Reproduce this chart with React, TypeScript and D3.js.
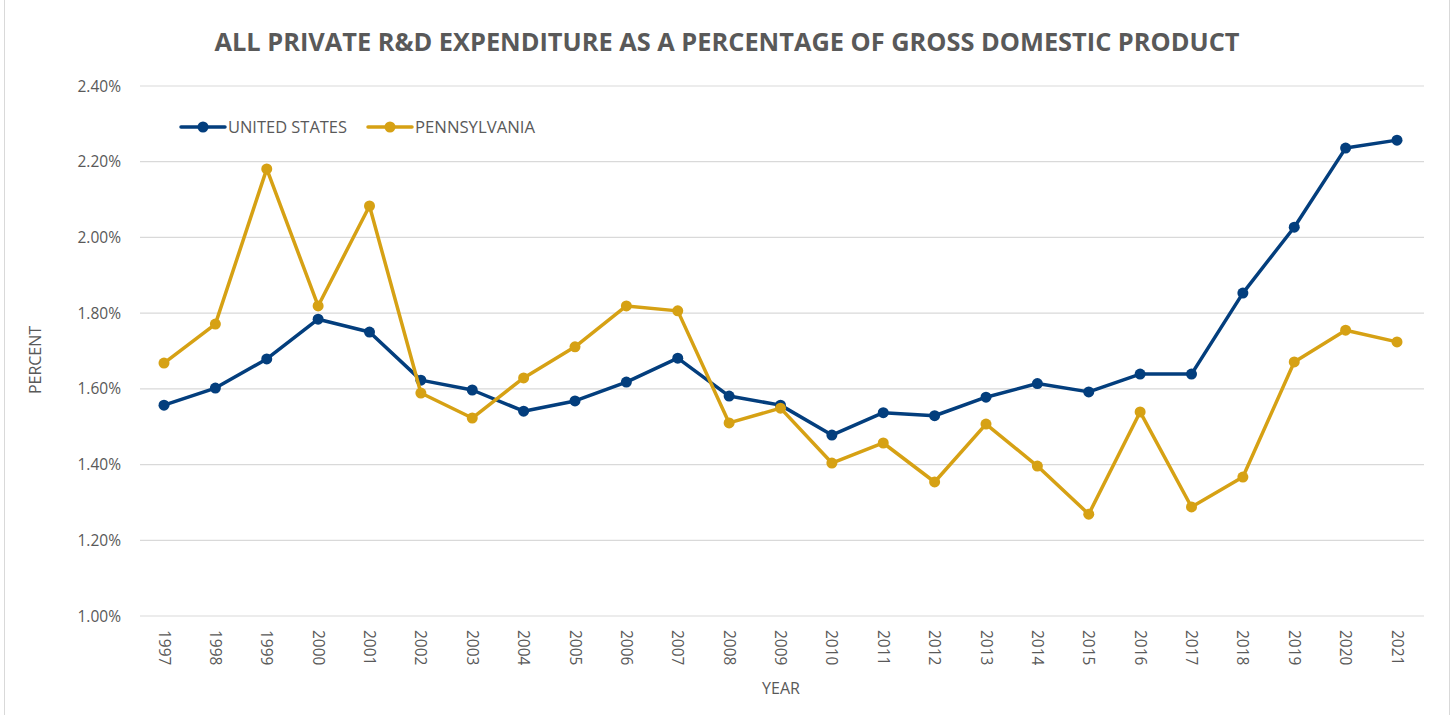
import React from "react";
import * as d3 from "d3";

const years = [1997,1998,1999,2000,2001,2002,2003,2004,2005,2006,2007,2008,2009,2010,2011,2012,2013,2014,2015,2016,2017,2018,2019,2020,2021];
const usValues = [1.557,1.602,1.679,1.784,1.750,1.623,1.597,1.541,1.568,1.618,1.681,1.581,1.557,1.478,1.537,1.529,1.578,1.614,1.592,1.639,1.639,1.853,2.027,2.236,2.257];
const paValues = [1.668,1.771,2.181,1.819,2.083,1.589,1.523,1.629,1.711,1.819,1.806,1.510,1.549,1.404,1.457,1.354,1.507,1.396,1.269,1.539,1.288,1.367,1.671,1.755,1.724];
const yTicks = [1.0,1.2,1.4,1.6,1.8,2.0,2.2,2.4];
const seriesNames = ["UNITED STATES", "PENNSYLVANIA"];
const colors = ["#033e7d", "#d6a114"];

const W = 1455, H = 715;
const font = "'Open Sans', 'Noto Sans', sans-serif";

export default function App() {
  const x = d3.scalePoint<number>().domain(years).range([164, 1397]);
  const y = d3.scaleLinear().domain([1.0, 2.4]).range([616, 86]);
  const line = d3.line<number>().x((_, i) => x(years[i])!).y(d => y(d));
  const series = [usValues, paValues];
  const legendX = [181, 368];
  return (
    <svg width={W} height={H} style={{ position: "absolute", left: 0, top: 0 }}>
      <rect x={0} y={0} width={W} height={H} fill="#fff" />
      <rect x={4.5} y={-2} width={1445} height={H + 4} fill="none" stroke="#d9d9d9" strokeWidth={1} />
      <text x={727} y={51} textAnchor="middle" fontFamily={font} fontWeight={700} fontSize={25} fill="#595959"
        textLength={1025} lengthAdjust="spacingAndGlyphs">
        ALL PRIVATE R&amp;D EXPENDITURE AS A PERCENTAGE OF GROSS DOMESTIC PRODUCT
      </text>
      {yTicks.map(t => (
        <g key={t}>
          <line x1={140} x2={1424} y1={y(t)} y2={y(t)} stroke="#d9d9d9" strokeWidth={1.2} />
          <text x={121} y={y(t) + 5.5} textAnchor="end" fontFamily={font} fontSize={15.5} fill="#595959">
            {t.toFixed(2)}%
          </text>
        </g>
      ))}
      {years.map(yr => (
        <text key={yr} transform={`translate(${x(yr)! - 5.5},630) rotate(90)`} fontFamily={font} fontSize={15.5} fill="#595959">
          {yr}
        </text>
      ))}
      <text x={781} y={694} textAnchor="middle" fontFamily={font} fontSize={16} fill="#595959">YEAR</text>
      <text transform="translate(41,360) rotate(-90)" textAnchor="middle" fontFamily={font} fontSize={16} fill="#595959">PERCENT</text>
      {series.map((vals, si) => (
        <g key={si}>
          <path d={line(vals)!} fill="none" stroke={colors[si]} strokeWidth={3.5} strokeLinejoin="round" />
          {vals.map((v, i) => (
            <circle key={i} cx={x(years[i])!} cy={y(v)} r={5.5} fill={colors[si]} />
          ))}
        </g>
      ))}
      {seriesNames.map((n, si) => (
        <g key={n}>
          <line x1={legendX[si]} x2={legendX[si] + 44} y1={127} y2={127} stroke={colors[si]} strokeWidth={3.5} strokeLinecap="round" />
          <circle cx={legendX[si] + 22} cy={127} r={5.5} fill={colors[si]} />
          <text x={legendX[si] + 47} y={132.5} fontFamily={font} fontSize={15.5} fill="#595959"
            textLength={si === 0 ? 119 : 120} lengthAdjust="spacingAndGlyphs">{n}</text>
        </g>
      ))}
    </svg>
  );
}
